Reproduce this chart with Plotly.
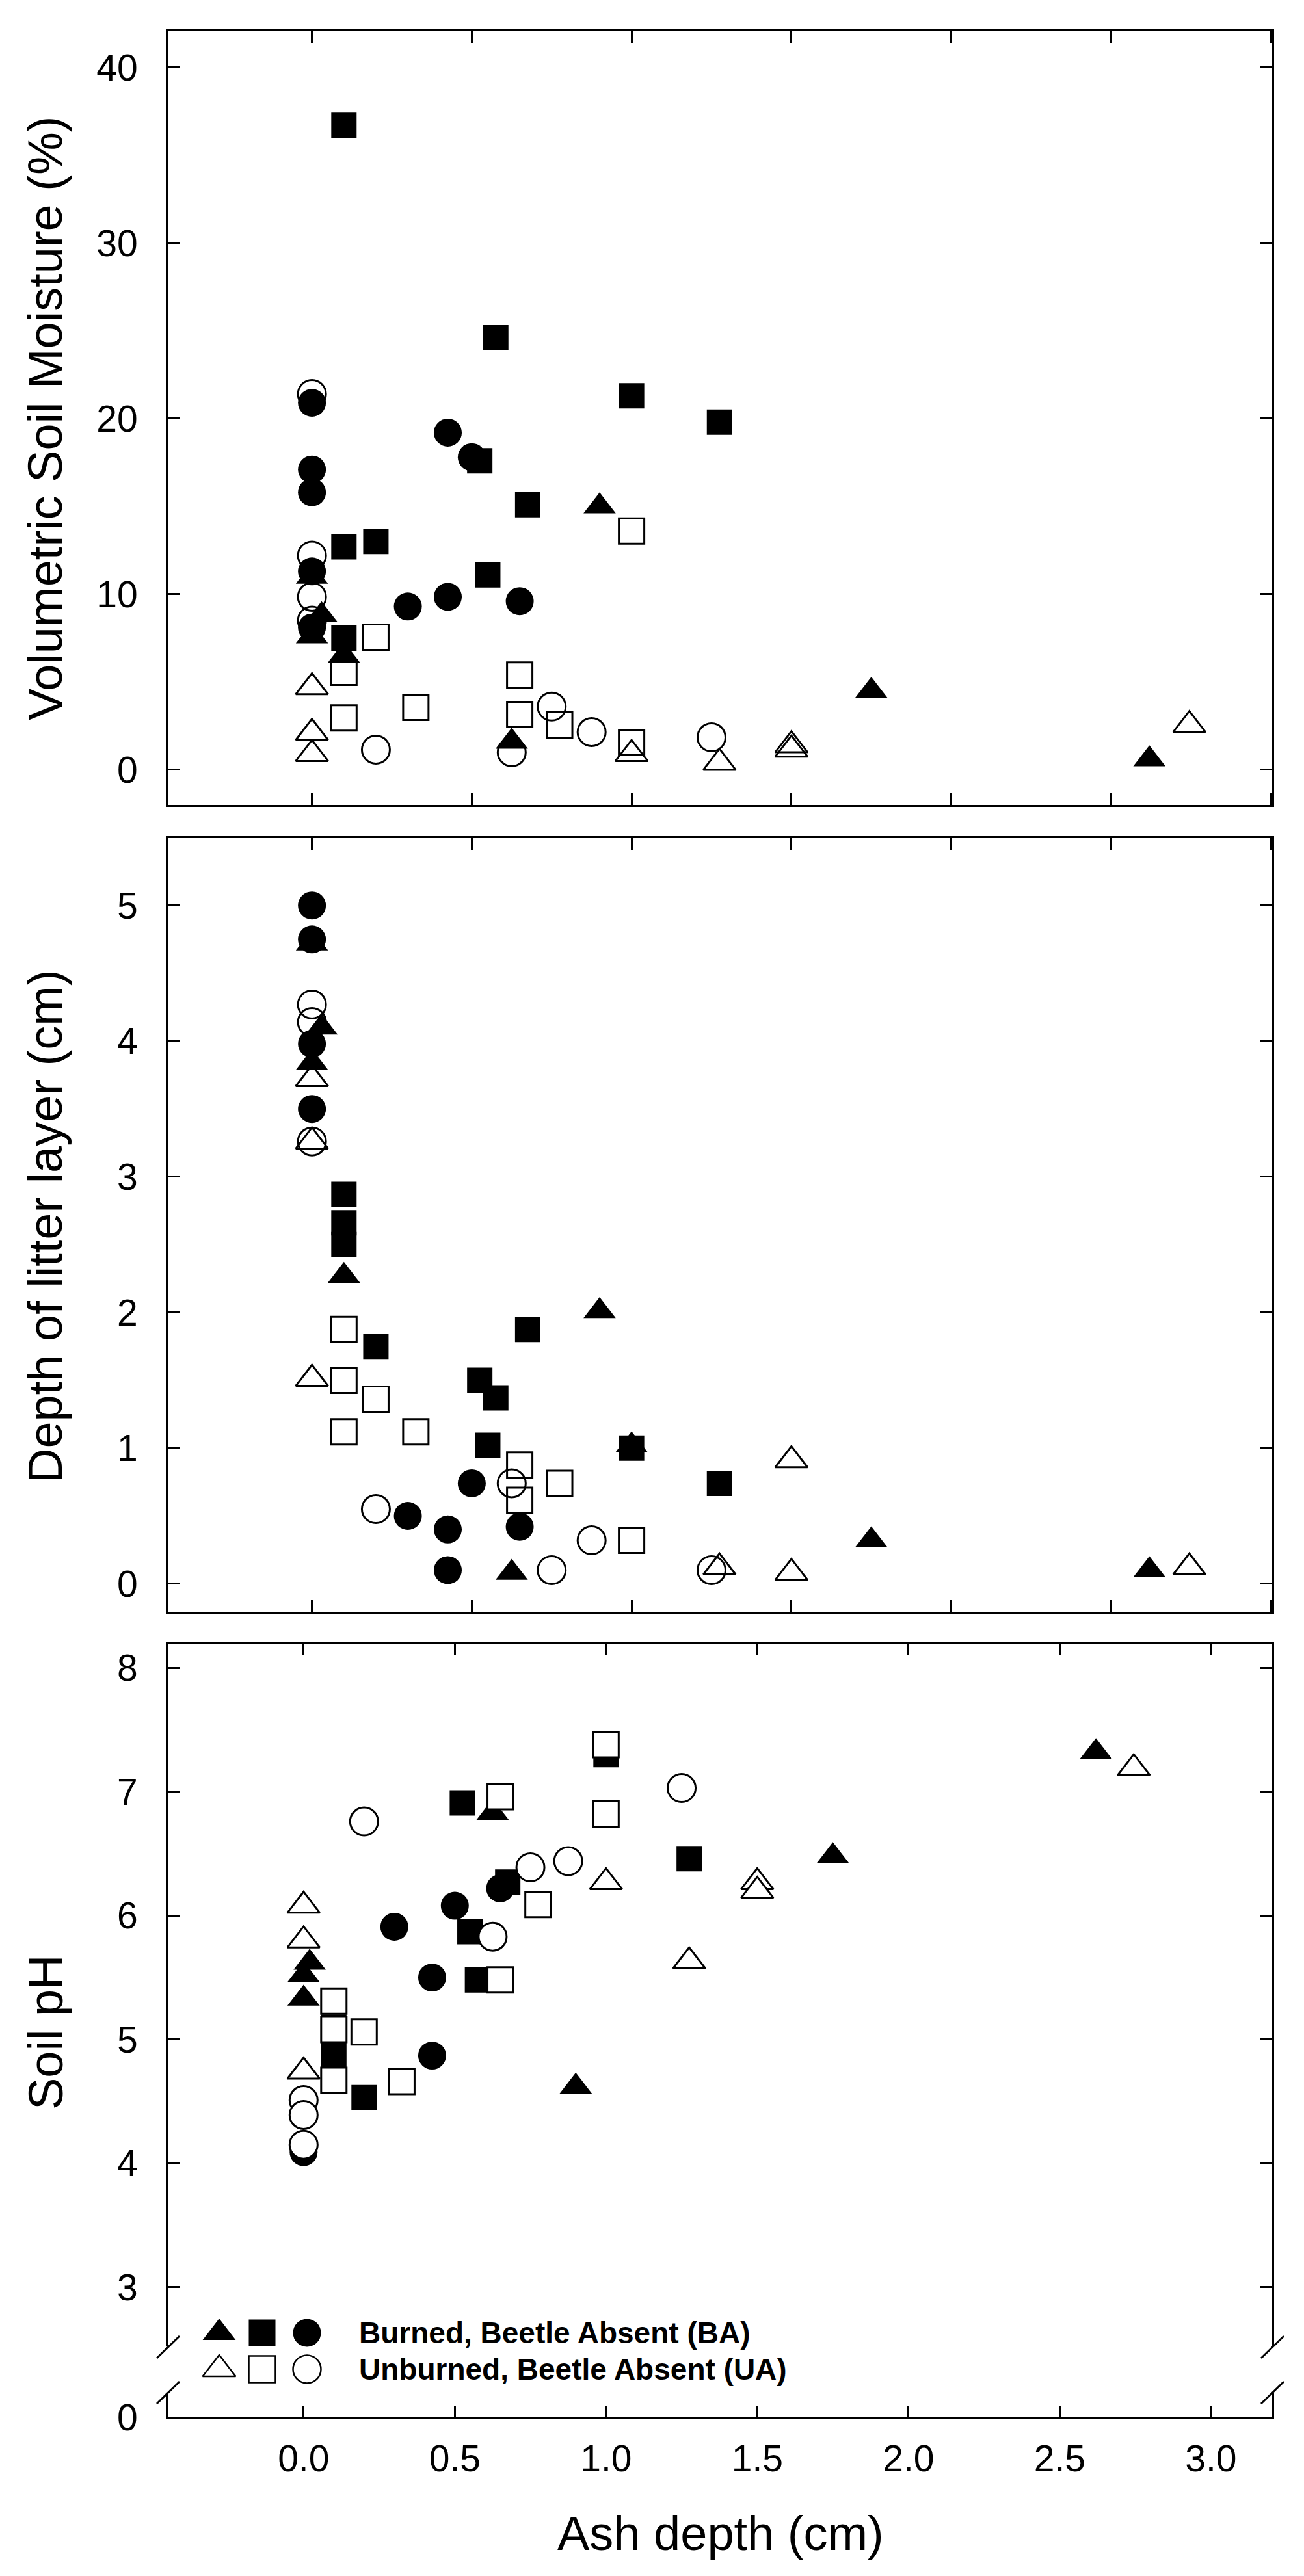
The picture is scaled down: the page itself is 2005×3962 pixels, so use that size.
import plotly.graph_objects as go

# ---- data: (ash depth, value) per treatment and plot symbol ----
# Panel 1: Volumetric soil moisture (%)
sm_ba_tri_x = [0.0, 0.03, 0.0, 0.1, 0.9, 0.625, 1.75, 2.62]
sm_ba_tri_y = [11.0, 8.8, 7.6, 6.5, 15.0, 1.6, 4.5, 0.6]
sm_ba_sq_x = [0.1, 0.575, 1.0, 1.275, 0.525, 0.675, 0.1, 0.2, 0.55, 0.1]
sm_ba_sq_y = [36.7, 24.6, 21.3, 19.8, 17.6, 15.1, 12.7, 13.0, 11.1, 7.5]
sm_ba_ci_x = [0.0, 0.0, 0.0, 0.0, 0.0, 0.425, 0.5, 0.3, 0.425, 0.65]
sm_ba_ci_y = [20.9, 17.1, 15.8, 11.3, 8.1, 19.2, 17.8, 9.3, 9.85, 9.6]
sm_ua_tri_x = [0.0, 0.0, 0.0, 1.0, 1.275, 1.5, 1.5, 2.745]
sm_ua_tri_y = [4.7, 2.1, 0.9, 0.9, 0.4, 1.4, 1.15, 2.55]
sm_ua_sq_x = [0.2, 0.1, 0.1, 0.325, 0.65, 0.65, 0.775, 1.0, 1.0]
sm_ua_sq_y = [7.55, 5.55, 2.95, 3.55, 5.4, 3.15, 2.55, 13.6, 1.55]
sm_ua_ci_x = [0.0, 0.0, 0.0, 0.0, 0.2, 0.625, 0.75, 0.875, 1.25]
sm_ua_ci_y = [21.4, 12.2, 9.85, 8.5, 1.15, 1.0, 3.6, 2.15, 1.85]

# Panel 2: Depth of litter layer (cm)
lt_ba_tri_x = [0.0, 0.03, 0.0, 0.1, 0.9, 0.625, 1.0, 1.75, 2.62]
lt_ba_tri_y = [4.72, 4.1, 3.84, 2.27, 2.01, 0.08, 1.02, 0.32, 0.1]
lt_ba_sq_x = [0.1, 0.1, 0.1, 0.2, 0.675, 0.525, 0.575, 0.55, 1.0, 1.275]
lt_ba_sq_y = [2.87, 2.66, 2.5, 1.75, 1.875, 1.5, 1.37, 1.02, 1.0, 0.74]
lt_ba_ci_x = [0.0, 0.0, 0.0, 0.0, 0.5, 0.3, 0.425, 0.425, 0.65]
lt_ba_ci_y = [5.0, 4.75, 3.98, 3.5, 0.74, 0.5, 0.4, 0.1, 0.42]
lt_ua_tri_x = [0.0, 0.0, 0.0, 1.5, 1.5, 1.275, 2.745]
lt_ua_tri_y = [3.72, 3.26, 1.51, 0.91, 0.08, 0.12, 0.12]
lt_ua_sq_x = [0.1, 0.1, 0.2, 0.1, 0.325, 0.65, 0.65, 0.775, 1.0]
lt_ua_sq_y = [1.875, 1.5, 1.36, 1.12, 1.12, 0.875, 0.615, 0.74, 0.32]
lt_ua_ci_x = [0.0, 0.0, 0.0, 0.2, 0.625, 0.75, 0.875, 1.25]
lt_ua_ci_y = [4.27, 4.14, 3.26, 0.55, 0.74, 0.1, 0.32, 0.1]

# Panel 3: Soil pH
ph_ba_tri_x = [0.0, 0.02, 0.0, 0.625, 0.9, 1.75, 2.62]
ph_ba_tri_y = [5.52, 5.62, 5.33, 6.83, 4.62, 6.48, 7.32]
ph_ba_sq_x = [0.525, 0.675, 0.55, 0.575, 0.1, 0.1, 0.2, 1.0, 1.275]
ph_ba_sq_y = [6.91, 6.27, 5.87, 5.48, 5.1, 4.88, 4.53, 7.3, 6.46]
ph_ba_ci_x = [0.0, 0.3, 0.5, 0.425, 0.425, 0.65]
ph_ba_ci_y = [4.09, 5.91, 6.08, 5.5, 4.87, 6.22]
ph_ua_tri_x = [0.0, 0.0, 0.0, 1.0, 1.275, 1.5, 1.5, 2.745]
ph_ua_tri_y = [6.08, 5.8, 4.74, 6.27, 5.63, 6.27, 6.2, 7.19]
ph_ua_sq_x = [0.65, 1.0, 1.0, 0.775, 0.65, 0.1, 0.1, 0.2, 0.1, 0.325]
ph_ua_sq_y = [6.96, 7.38, 6.82, 6.09, 5.48, 5.31, 5.08, 5.06, 4.67, 4.66]
ph_ua_ci_x = [0.2, 0.75, 0.875, 0.625, 1.25, 0.0, 0.0, 0.0]
ph_ua_ci_y = [6.76, 6.39, 6.44, 5.83, 7.03, 4.51, 4.39, 4.15]

x_ticks = [0.0, 0.5, 1.0, 1.5, 2.0, 2.5, 3.0]
sm_ticks = [0, 10, 20, 30, 40]
lt_ticks = [0, 1, 2, 3, 4, 5]
ph_ticks = [3, 4, 5, 6, 7, 8]

legend_labels = ["Burned, Beetle Absent (BA)", "Unburned, Beetle Absent (UA)"]

# ---- layout geometry (pixels of the 2005 x 3962 page) ----
W, H = 2005, 3962
L, R, T, B = 250, 1948, 40, 3710
FONT = "Liberation Sans"


def px(x):
    return (x - L) / (R - L)


def py(y):
    return (B - y) / (B - T)


SIZES = {"triangle-up": 43, "square": 39, "circle": 43}


def pts(x, y, symbol, filled, xa, ya, open_fill="rgba(0,0,0,0)"):
    return go.Scatter(
        x=x, y=y, xaxis=xa, yaxis=ya, mode="markers", showlegend=False,
        hoverinfo="x+y", cliponaxis=False,
        marker=dict(symbol=symbol, size=SIZES[symbol], opacity=1,
                    color="black" if filled else open_fill,
                    line=dict(color="black", width=0 if filled else 3)),
    )


fig = go.Figure()

# panels 1 and 2: open symbols underneath, filled on top
for xa, ya, groups in [
    ("x", "y", [(sm_ua_tri_x, sm_ua_tri_y, "triangle-up", False),
                (sm_ua_sq_x, sm_ua_sq_y, "square", False),
                (sm_ua_ci_x, sm_ua_ci_y, "circle", False),
                (sm_ba_tri_x, sm_ba_tri_y, "triangle-up", True),
                (sm_ba_sq_x, sm_ba_sq_y, "square", True),
                (sm_ba_ci_x, sm_ba_ci_y, "circle", True)]),
    ("x2", "y2", [(lt_ua_tri_x, lt_ua_tri_y, "triangle-up", False),
                  (lt_ua_sq_x, lt_ua_sq_y, "square", False),
                  (lt_ua_ci_x, lt_ua_ci_y, "circle", False),
                  (lt_ba_tri_x, lt_ba_tri_y, "triangle-up", True),
                  (lt_ba_sq_x, lt_ba_sq_y, "square", True),
                  (lt_ba_ci_x, lt_ba_ci_y, "circle", True)]),
]:
    for gx, gy, sym, filled in groups:
        fig.add_trace(pts(gx, gy, sym, filled, xa, ya))

# panel 3: filled first, open (white) symbols on top
for gx, gy, sym, filled in [(ph_ba_tri_x, ph_ba_tri_y, "triangle-up", True),
                            (ph_ba_sq_x, ph_ba_sq_y, "square", True),
                            (ph_ba_ci_x, ph_ba_ci_y, "circle", True),
                            (ph_ua_tri_x, ph_ua_tri_y, "triangle-up", False),
                            (ph_ua_sq_x, ph_ua_sq_y, "square", False),
                            (ph_ua_ci_x, ph_ua_ci_y, "circle", False)]:
    fig.add_trace(pts(gx, gy, sym, filled, "x3", "y3", open_fill="white"))

# empty trace so the lower (broken) segment of panel 3 gets drawn
fig.add_trace(go.Scatter(x=[None], y=[None], xaxis="x4", yaxis="y4",
                         mode="markers", showlegend=False))

# hand-made legend inside panel 3 (paper-like overlay axes)
leg_sym = ["triangle-up", "square", "circle"]
leg_x = [px(329), px(395), px(464)]
leg_rows = [py(3580), py(3636)]
for row, filled in zip(leg_rows, [True, False]):
    fig.add_trace(go.Scatter(
        x=leg_x, y=[row] * 3, xaxis="x5", yaxis="y5", mode="markers",
        showlegend=False, hoverinfo="skip", cliponaxis=False,
        marker=dict(symbol=leg_sym, size=[44, 41, 43], opacity=1,
                    color="black" if filled else "white",
                    line=dict(color="black", width=0 if filled else 2.5)),
    ))

tickfont = dict(family=FONT, size=57, color="black")
axis_common = dict(showline=True, linewidth=3, linecolor="black", ticks="inside",
                   ticklen=18, tickwidth=3, tickcolor="black", showgrid=False,
                   zeroline=False, tickfont=tickfont, layer="above traces")

xr12 = [-0.451, 3.004]
xr3 = [-0.449, 3.2025]

fig.update_layout(
    width=W, height=H, autosize=False,
    margin=dict(l=L, r=W - R, t=T, b=H - B, pad=0),
    paper_bgcolor="white", plot_bgcolor="rgba(0,0,0,0)",
    font=dict(family=FONT, color="black"),
    xaxis=dict(axis_common, domain=[0, 1], anchor="y", range=xr12, tickvals=x_ticks,
               showticklabels=False, mirror="ticks"),
    yaxis=dict(axis_common, domain=[py(1230), py(40)], anchor="x", range=[-2.0, 42.06],
               tickvals=sm_ticks, mirror="ticks", ticklabelstandoff=32),
    xaxis2=dict(axis_common, domain=[0, 1], anchor="y2", range=xr12, tickvals=x_ticks,
                showticklabels=False, mirror="ticks"),
    yaxis2=dict(axis_common, domain=[py(2471), py(1281)], anchor="x2",
                range=[-0.207, 5.497], tickvals=lt_ticks, mirror="ticks",
                ticklabelstandoff=32),
    xaxis3=dict(axis_common, domain=[0, 1], anchor="y3", side="top", range=xr3,
                tickvals=x_ticks, showticklabels=False),
    yaxis3=dict(axis_common, domain=[py(3600), py(2520)], anchor="x3",
                range=[2.526, 8.196], tickvals=ph_ticks, mirror="ticks",
                ticklabelstandoff=32),
    xaxis4=dict(axis_common, domain=[0, 1], anchor="y4", range=xr3, matches="x3",
                tickvals=x_ticks, tickformat=".1f", ticklabelstandoff=12),
    yaxis4=dict(axis_common, domain=[0, py(3672)], anchor="x4", range=[0, 0.2],
                tickvals=[0], ticktext=["0"], ticks="", mirror=True,
                ticklabelstandoff=32),
    xaxis5=dict(domain=[0, 1], anchor="y5", range=[0, 1], visible=False),
    yaxis5=dict(domain=[0, 1], anchor="x5", range=[0, 1], visible=False),
)

# axis titles and legend text
title_font = dict(family=FONT, size=74, color="black")
ann = [
    dict(text="Volumetric Soil Moisture (%)", x=px(62), y=py(636), textangle=-90,
         font=title_font),
    dict(text="Depth of litter layer (cm)", x=px(62), y=py(1878), textangle=-90,
         font=title_font),
    dict(text="Soil pH", x=px(62), y=py(3118), textangle=-90, font=title_font),
    dict(text="Ash depth (cm)", x=px(1100), y=py(3888), font=title_font),
]
for row_y, lab in zip([3580, 3636], legend_labels):
    ann.append(dict(text="<b>" + lab + "</b>", x=px(542), y=py(row_y),
                    xanchor="left", font=dict(family=FONT, size=46, color="black")))
for a in ann:
    a.setdefault("xanchor", "center")
    a.update(xref="paper", yref="paper", yanchor="middle", showarrow=False)
fig.update_layout(annotations=ann)

# axis-break marks on the pH panel
shapes = []
for x0, x1 in [(233, 268), (1931, 1966)]:
    for yb in [3602, 3672]:
        shapes.append(dict(type="line", xref="paper", yref="paper",
                           x0=px(x0), x1=px(x1), y0=py(yb + 17), y1=py(yb - 17),
                           line=dict(color="black", width=3)))
fig.update_layout(shapes=shapes)

fig.write_html("out.html")
